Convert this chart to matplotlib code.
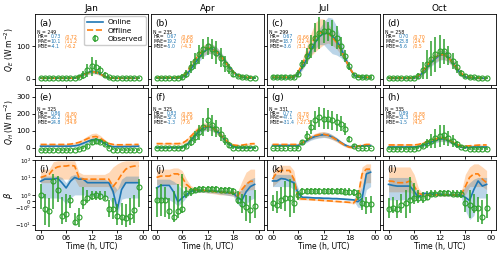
import numpy as np
import matplotlib.pyplot as plt

hours = np.arange(24)
months = ["Jan", "Apr", "Jul", "Oct"]

# ---------------- Q_E ----------------
qe_obs = {
 "Jan": [1,1,1,1,1,1,1,2,2,4,12,25,38,36,25,12,4,2,1,1,1,1,1,1],
 "Apr": [2,2,2,2,2,3,5,15,35,55,75,92,100,92,80,65,45,30,15,8,5,4,3,2],
 "Jul": [5,5,5,5,5,6,15,44,70,100,127,142,146,146,142,127,100,70,40,12,6,5,5,5],
 "Oct": [2,2,2,2,2,2,3,8,25,45,62,75,84,84,72,55,35,18,8,5,4,3,3,2],
}
qe_obs_err = {
 "Jan": [3,3,3,3,3,3,3,3,4,6,12,20,30,22,15,8,4,3,3,3,3,3,3,3],
 "Apr": [4,4,4,4,4,5,8,12,18,25,30,30,28,30,35,30,25,15,10,6,5,5,4,4],
 "Jul": [5,5,5,5,5,6,10,15,25,35,45,50,35,30,40,35,30,20,12,6,5,5,5,5],
 "Oct": [3,3,3,3,3,3,4,10,25,45,55,55,50,40,30,25,18,10,6,5,4,4,3,3],
}
qe_on = {
 "Jan": [1,1,1,1,1,1,1,1,2,5,12,18,22,21,15,7,3,1,1,1,1,1,1,1],
 "Apr": [2,2,2,2,2,2,4,12,28,48,65,82,92,92,85,72,55,36,20,10,5,3,2,2],
 "Jul": [3,3,3,3,3,5,14,35,60,88,112,130,140,140,132,118,95,65,35,12,5,4,3,3],
 "Oct": [1,1,1,1,1,1,2,6,18,35,50,62,72,74,66,50,30,14,5,3,2,1,1,1],
}
qe_off = {
 "Jan": [1,1,1,1,1,1,1,1,2,5,12,17,21,20,14,7,3,1,1,1,1,1,1,1],
 "Apr": [3,3,3,3,3,3,6,18,38,58,75,88,95,92,84,70,54,36,20,11,6,4,3,3],
 "Jul": [4,4,4,4,4,6,20,45,75,105,128,140,145,140,128,112,90,62,34,14,7,5,4,4],
 "Oct": [2,2,2,2,2,2,3,8,22,40,56,66,74,74,65,50,32,16,7,4,3,2,2,2],
}
qe_on_spread = {
 "Jan": [1,1,1,1,1,1,1,1,2,3,4,5,6,6,5,3,2,1,1,1,1,1,1,1],
 "Apr": [2,2,2,2,2,2,3,5,8,10,12,14,15,15,14,12,10,8,5,3,2,2,2,2],
 "Jul": [2,2,2,2,2,3,5,8,12,15,20,25,35,50,55,45,30,15,8,4,3,2,2,2],
 "Oct": [2,2,2,2,2,2,3,5,8,10,12,14,15,15,14,12,10,6,4,3,2,2,2,2],
}
qe_off_spread = {
 "Jan": [1,1,1,1,1,1,1,1,2,3,4,5,6,6,5,3,2,1,1,1,1,1,1,1],
 "Apr": [3,3,3,3,3,3,4,6,10,12,14,16,16,15,14,12,10,8,5,3,3,3,3,3],
 "Jul": [3,3,3,3,3,4,8,15,25,35,45,45,40,30,25,20,15,10,6,4,3,3,3,3],
 "Oct": [4,4,4,4,4,4,4,6,10,12,14,15,15,15,14,12,10,8,5,4,4,4,4,4],
}
qe_stats = {
 "Jan": ("249", "0.73", "0.72", "10.1", "11.2", "-4.1", "-6.2"),
 "Apr": ("235", "0.67", "0.68", "19.2", "19.6", "-5.0", "-4.3"),
 "Jul": ("299", "0.67", "0.66", "18.7", "22.4", "-3.6", "3.1"),
 "Oct": ("258", "0.70", "0.70", "23.8", "24.4", "-5.6", "0.5"),
}

# ---------------- Q_H ----------------
qh_obs = {
 "Jan": [-15,-15,-15,-15,-15,-15,-14,-14,-12,-8,-2,8,30,40,35,20,0,-12,-14,-15,-15,-15,-15,-15],
 "Apr": [-2,-2,-2,-2,-2,-2,0,10,35,60,90,120,160,130,110,80,45,15,0,-2,-2,-2,-2,-2],
 "Jul": [-5,-5,-5,-5,-5,-5,0,30,70,120,160,180,170,165,160,150,140,110,50,10,-5,-5,-5,-5],
 "Oct": [-8,-8,-8,-8,-8,-8,-8,-3,10,25,40,55,70,72,55,40,20,5,-5,-8,-8,-8,-8,-8],
}
qh_obs_err = {
 "Jan": [5,5,5,5,5,5,5,5,5,6,8,10,15,18,15,10,6,5,5,5,5,5,5,5],
 "Apr": [5,5,5,5,5,5,6,12,25,35,45,55,70,60,50,40,30,15,8,5,5,5,5,5],
 "Jul": [5,5,5,5,5,5,8,15,30,40,55,60,60,55,55,50,45,35,20,8,5,5,5,5],
 "Oct": [5,5,5,5,5,5,5,8,15,25,40,55,65,60,45,35,20,10,6,5,5,5,5,5],
}
qh_on = {
 "Jan": [8,8,8,8,8,8,8,8,10,15,25,35,45,48,40,25,10,5,5,5,6,6,7,8],
 "Apr": [0,0,0,0,0,0,2,15,40,70,95,115,122,118,100,75,45,20,5,0,0,0,0,0],
 "Jul": [12,12,12,12,12,12,12,25,40,55,65,72,75,72,62,48,30,15,5,5,8,10,12,12],
 "Oct": [3,3,3,3,3,3,3,5,12,22,32,42,50,50,40,28,12,3,0,2,3,3,3,3],
}
qh_off = {
 "Jan": [18,18,18,18,18,18,18,20,24,30,40,52,62,65,55,38,24,18,16,16,17,17,18,18],
 "Apr": [23,23,23,23,23,23,25,40,65,90,110,122,125,118,100,75,48,28,15,12,14,18,22,23],
 "Jul": [18,18,18,18,18,18,18,28,45,60,70,76,78,72,60,45,28,12,2,0,8,14,18,18],
 "Oct": [15,15,15,15,15,15,15,18,25,33,42,50,55,55,45,32,18,10,8,10,12,14,15,15],
}
qh_on_spread = {
 "Jan": [4,4,4,4,4,4,4,4,5,6,8,10,10,10,8,6,5,4,4,4,4,4,4,4],
 "Apr": [5,5,5,5,5,5,5,8,12,15,18,20,20,20,18,15,12,8,6,5,5,5,5,5],
 "Jul": [5,5,5,5,5,5,5,8,10,12,14,16,16,16,14,12,10,8,6,5,5,5,5,5],
 "Oct": [5,5,5,5,5,5,5,6,8,10,12,14,15,15,12,10,8,6,5,5,5,5,5,5],
}
qh_off_spread = {
 "Jan": [5,5,5,5,5,5,5,5,6,8,12,16,20,20,16,10,6,5,5,5,5,5,5,5],
 "Apr": [6,6,6,6,6,6,6,10,14,18,20,22,22,22,20,16,12,8,6,6,6,6,6,6],
 "Jul": [6,6,6,6,6,6,6,8,10,12,14,16,16,16,14,12,10,8,6,6,6,6,6,6],
 "Oct": [6,6,6,6,6,6,6,7,9,11,13,15,16,16,13,11,9,7,6,6,6,6,6,6],
}
qh_stats = {
 "Jan": ("325", "0.86", "0.80", "26.2", "35.3", "24.8", "34.9"),
 "Apr": ("325", "0.83", "0.85", "32.5", "33.9", "-1.3", "7.6"),
 "Jul": ("331", "0.77", "0.78", "47.1", "47.3", "-31.4", "-27.5"),
 "Oct": ("335", "0.89", "0.88", "31.3", "32.3", "-1.5", "4.8"),
}

# ---------------- beta ----------------
beta_obs = {
 "Jan": [1.0,-1.3,-1.6,6.3,2.0,-3.2,-2.3,0.15,-6.8,-3.4,-0.1,0.5,0.8,1.0,0.8,0.5,-1.2,-1.2,-3.2,-3.5,-4.0,-3.0,-1.5,3.0],
 "Apr": [0.1,0.1,0.1,-1.7,-3.4,-1.7,-1.3,1.25,1.6,2.0,2.2,2.3,2.3,2.3,2.2,2.0,2.0,2.0,1.6,0.2,-0.5,-1.0,-1.5,-0.8],
 "Jul": [-0.3,-0.7,0.15,0.5,0.5,-0.3,1.0,1.6,1.6,1.6,1.7,1.7,1.7,1.7,1.6,1.6,1.6,1.5,1.5,1.4,1.0,-0.3,-0.5,-0.4],
 "Oct": [-1.3,-1.1,-1.3,-0.6,-0.3,0.15,0.5,0.5,0.5,0.7,1.1,1.2,1.3,1.3,1.3,1.2,1.1,1.1,-0.3,-0.6,-1.1,-1.1,-3.4,-1.1],
}
beta_obs_lo = {
 "Jan": [-1.3,-11,-13,-1.3,-0.2,-9,-7,-1.1,-11,-13,-1.3,-0.3,0.1,0.1,0.1,0.1,-3.4,-5,-11,-10,-13,-10,-8,-1.0],
 "Apr": [-3.4,-3.0,-3.8,-5,-7,-4,-2,0.5,0.9,1.3,1.5,1.6,1.6,1.6,1.5,1.4,1.4,1.4,1.0,-0.5,-2,-6,-8,-4],
 "Jul": [-1.6,-2.2,-1.3,-1.6,-3.4,-2.2,0.2,1.0,1.1,1.1,1.2,1.2,1.2,1.2,1.1,1.1,1.1,1.0,1.0,0.9,0.2,-1.5,-2.5,-2.0],
 "Oct": [-4,-2.2,-4,-2.2,-4,-2.2,-0.5,-0.3,-0.3,0.2,0.7,0.8,0.9,0.9,0.9,0.8,0.7,0.5,-1.8,-4,-2.2,-7,-9,-4],
}
beta_obs_hi = {
 "Jan": [4,1.2,0.5,16,12,0.6,1.2,1.0,-2,-1.1,3,2,1.6,1.6,1.6,1.6,0.2,0.5,-0.5,-0.3,-0.5,0.5,1.0,8],
 "Apr": [3,4,3,0.5,1.6,4,16,3,2.6,3.0,3.2,3.3,3.3,3.3,3.2,3.0,3.0,3.0,2.5,1.6,1.2,1.0,0.8,2.0],
 "Jul": [1.0,1.6,3,6.3,8,5,1.6,2.5,2.5,2.5,2.6,2.6,2.6,2.6,2.5,2.5,2.5,2.4,2.4,2.2,2.0,0.5,0.6,0.8],
 "Oct": [0.5,0.6,0.2,1.2,2.0,10,5,2.0,1.5,1.6,1.8,1.9,2.0,2.0,2.0,1.9,1.8,1.8,0.6,2.0,1.2,0.6,0.1,1.2],
}
beta_on = {
 "Jan": [6,8,8,8,9,5,2.5,6,10,8,8,5,5,5,5,5,5,1.6,-1.3,2,5,5,5,5],
 "Apr": [2.5,3.5,3.5,3.5,1.5,-0.1,0.5,1.0,1.6,1.8,1.8,1.8,1.7,1.7,1.6,1.5,1.4,1.3,1.25,0.6,0.1,1.5,3,4],
 "Jul": [6.3,6.3,8.7,8,6.3,5,1.25,0.6,0.6,0.55,0.5,0.5,0.45,0.45,0.4,0.4,0.35,0.3,0.25,0.2,-0.1,0.4,16,20],
 "Oct": [4,3.5,3.2,3.2,3.2,3.2,1.6,0.6,1.2,1.2,1.1,1.1,1.1,1.0,1.0,1.0,1.0,1.0,0.6,0.1,2,6.3,3.2,4],
}
beta_on_lo = {
 "Jan": [0.5,0.5,0.5,0.5,0.5,0.3,-0.5,0.5,1,1,1,0.8,0.8,0.8,0.8,0.8,0.5,-0.5,-3,0.3,0.5,0.5,0.5,0.5],
 "Apr": [0.3,0.3,0.3,0.2,-0.2,-0.8,-0.2,0.6,1.2,1.4,1.4,1.4,1.3,1.3,1.2,1.1,1.0,0.9,0.8,-0.5,-1.0,-0.5,0.2,0.5],
 "Jul": [3,3,3,3,3,2,0.6,0.4,0.4,0.4,0.35,0.35,0.3,0.3,0.28,0.28,0.25,0.2,0.15,0.1,-1.0,-1.0,2,3],
 "Oct": [0.2,0.2,0.2,0.2,0.2,0.2,0.5,0.4,0.9,0.9,0.85,0.85,0.85,0.8,0.8,0.8,0.8,0.7,-1.5,-5,-3,0.5,0.5,0.5],
}
beta_on_hi = {
 "Jan": [12,12,12,12,12,10,5,12,15,12,10,8,8,8,8,8,6,4,2,8,12,12,12,12],
 "Apr": [8,8,8,8,6,4,2,1.5,2.0,2.2,2.2,2.2,2.1,2.1,2.0,1.9,1.8,1.7,1.7,1.5,2,5,8,10],
 "Jul": [15,15,15,15,15,10,2.5,0.8,0.8,0.75,0.7,0.7,0.65,0.65,0.6,0.6,0.55,0.5,0.45,0.4,1.0,3,30,30],
 "Oct": [10,10,10,10,10,10,3,1.0,1.5,1.5,1.4,1.4,1.4,1.3,1.3,1.3,1.3,1.4,3,5,8,10,10,10],
}
beta_off = {
 "Jan": [10,12,15,30,40,45,45,50,45,10,8,8,8,8,8,8,8,3,6,15,30,40,45,45],
 "Apr": [10,12,12,12,16,16,10,4,2.5,2.0,1.9,1.8,1.7,1.6,1.5,1.4,1.4,1.3,1.3,0.8,2,4,6,6],
 "Jul": [8,20,25,25,25,8,0.4,0.35,0.3,0.25,0.2,0.15,0.1,0.05,0.0,-0.05,-0.1,-0.15,-0.2,-0.3,0.5,16,30,30],
 "Oct": [6.3,6,5,5,5,6.3,3.2,1.25,1.0,1.0,1.0,1.0,1.0,1.0,1.0,1.0,1.0,1.0,3,10,16,16,8,5],
}
beta_off_lo = {
 "Jan": [5,5,5,8,8,8,8,8,8,3,3,3,3,3,3,3,3,1,2,3,5,5,5,5],
 "Apr": [4,4,4,4,4,4,3,2,1.8,1.5,1.4,1.4,1.3,1.2,1.1,1.0,1.0,0.9,0.8,0.3,0.8,1.5,2,2],
 "Jul": [3,5,8,8,8,3,0.2,0.2,0.18,0.15,0.1,0.05,0.0,-0.05,-0.1,-0.15,-0.2,-0.25,-0.3,-0.5,0.1,3,5,5],
 "Oct": [1.5,1.5,1.5,1.5,1.5,1.5,1.0,0.8,0.8,0.8,0.8,0.8,0.8,0.8,0.8,0.8,0.8,0.7,1.0,3,3,3,3,2],
}
beta_off_hi = {
 "Jan": [30,30,30,80,90,90,90,90,90,20,15,15,15,15,15,15,20,40,60,80,90,90,90,90],
 "Apr": [25,30,30,30,35,35,25,8,3.5,2.5,2.4,2.3,2.2,2.1,2.0,1.9,1.9,1.8,1.8,1.5,6,20,30,30],
 "Jul": [25,40,50,50,50,25,0.8,0.5,0.45,0.4,0.35,0.3,0.25,0.2,0.15,0.1,0.05,0.0,-0.05,0.1,2,40,60,60],
 "Oct": [40,40,40,40,40,40,15,2.5,1.2,1.2,1.2,1.2,1.2,1.2,1.2,1.2,1.2,1.3,15,40,60,60,40,25],
}

labels = list("abcdefghijkl")
blue = "#1f77b4"
orange = "#ff7f0e"
green = "#2ca02c"

fig = plt.figure(figsize=(5.0, 2.54), dpi=100)
W, H = 500.0, 254.0
lefts = [35, 151, 267, 383]
aw = 113
rows = [(14, 85), (88, 156), (160, 230)]
stat_y = {0: [0.746, 0.68, 0.614, 0.548], 1: [0.69, 0.625, 0.56, 0.495]}

def add_ax(c, r):
    l = lefts[c]
    t, b = rows[r]
    return fig.add_axes([l / W, 1 - b / H, aw / W, (b - t) / H])

def draw_stats(ax, st, ys):
    fs = 3.3
    names = ["HR=", "MAE=", "MBE="]
    ax.text(0.02, ys[0], "N = " + st[0], transform=ax.transAxes, fontsize=fs, va="center")
    for k in range(3):
        y = ys[k + 1]
        ax.text(0.02, y, names[k], transform=ax.transAxes, fontsize=fs, va="center")
        ax.text(0.14, y, st[1 + 2 * k], transform=ax.transAxes, fontsize=fs, va="center", color=blue)
        ax.text(0.265, y, "/" + st[2 + 2 * k], transform=ax.transAxes, fontsize=fs, va="center", color=orange)

for c, m in enumerate(months):
    for r in range(3):
        ax = add_ax(c, r)
        if r == 0:
            on, off, ob = np.array(qe_on[m]), np.array(qe_off[m]), np.array(qe_obs[m])
            oe = np.array(qe_obs_err[m])
            ylo, yhi = oe, oe
            on_lo, on_hi = on - np.array(qe_on_spread[m]), on + np.array(qe_on_spread[m])
            off_lo, off_hi = off - np.array(qe_off_spread[m]), off + np.array(qe_off_spread[m])
        elif r == 1:
            on, off, ob = np.array(qh_on[m]), np.array(qh_off[m]), np.array(qh_obs[m])
            oe = np.array(qh_obs_err[m])
            ylo, yhi = oe, oe
            on_lo, on_hi = on - np.array(qh_on_spread[m]), on + np.array(qh_on_spread[m])
            off_lo, off_hi = off - np.array(qh_off_spread[m]), off + np.array(qh_off_spread[m])
        else:
            on, off, ob = np.array(beta_on[m]), np.array(beta_off[m]), np.array(beta_obs[m])
            ylo = ob - np.array(beta_obs_lo[m])
            yhi = np.array(beta_obs_hi[m]) - ob
            on_lo, on_hi = np.array(beta_on_lo[m]), np.array(beta_on_hi[m])
            off_lo, off_hi = np.array(beta_off_lo[m]), np.array(beta_off_hi[m])
        ax.fill_between(hours, off_lo, off_hi, color=orange, alpha=0.3, lw=0)
        ax.fill_between(hours, on_lo, on_hi, color=blue, alpha=0.3, lw=0)
        ax.plot(hours, on, color=blue, lw=1.2, label="Online")
        ax.plot(hours, off, color=orange, lw=1.2, ls="--", label="Offline")
        ax.errorbar(hours, ob, yerr=[np.abs(ylo), np.abs(yhi)], fmt="o", mfc="none", mec=green,
                    ms=3.6, mew=0.8, ecolor=green, elinewidth=1.1, color=green, label="Observed")
        ax.set_xlim(-1.3, 25.2)
        ax.set_xticks([0, 6, 12, 18, 24])
        ax.tick_params(labelsize=5.2, length=2, pad=1.5, width=0.6)
        for s in ax.spines.values():
            s.set_linewidth(0.6)
        if r == 0:
            ax.set_ylim(-20, 200)
            ax.set_yticks([0, 100])
            ax.set_title(m, fontsize=6.5, pad=2.5)
            draw_stats(ax, qe_stats[m], stat_y[0])
        elif r == 1:
            ax.set_ylim(-50, 350)
            ax.set_yticks([0, 100, 200, 300])
            draw_stats(ax, qh_stats[m], stat_y[1])
        else:
            ax.set_yscale("symlog", linthresh=1, linscale=0.32)
            ax.set_ylim(-20, 100)
            ax.set_yticks([-10, -1, 0, 1, 10, 100])
            ax.minorticks_off()
            if c == 0:
                ax.tick_params(axis="y", labelsize=4.0, pad=1)
        if r < 2:
            ax.set_xticklabels([])
        else:
            ax.set_xticklabels(["00", "06", "12", "18", "00"])
            ax.set_xlabel("Time (h, UTC)", fontsize=5.5, labelpad=1)
        if c > 0:
            ax.set_yticklabels([])
        else:
            if r == 0:
                ax.set_ylabel("$Q_E$ (W m$^{-2}$)", fontsize=5.5)
                ax.yaxis.set_label_coords(-0.17, 0.5)
            elif r == 1:
                ax.set_ylabel("$Q_H$ (W m$^{-2}$)", fontsize=5.5)
                ax.yaxis.set_label_coords(-0.17, 0.5)
            else:
                ax.set_ylabel(r"$\beta$", fontsize=6)
                ax.yaxis.set_label_coords(-0.18, 0.5)
        ax.text(0.04, 0.93, "(" + labels[r * 4 + c] + ")", transform=ax.transAxes,
                fontsize=6.5, va="top", ha="left")
        if r == 0 and c == 0:
            ax.legend(loc="upper right", fontsize=5.3, handlelength=2.2, borderpad=0.4,
                      labelspacing=0.3, handletextpad=0.6, framealpha=1, borderaxespad=0.3)

fig.savefig("out.png", dpi=100)
